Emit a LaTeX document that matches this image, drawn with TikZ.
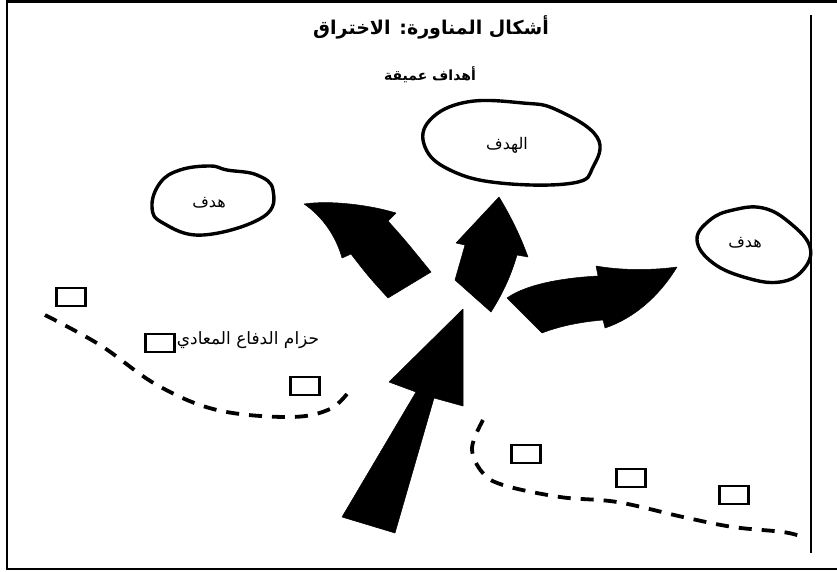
\documentclass[tikz,border=0pt]{standalone}
\usepackage{fontspec}
\newfontfamily\arabicfont[Script=Arabic]{DejaVu Sans}
\TeXXeTstate=1
\usepackage{tikz}

\begin{document}
\begin{tikzpicture}[
    x=1pt, y=-1pt,
    blob/.style={line width=3.4pt, line join=round},
    post/.style={rectangle, draw=black, line width=2.4pt, minimum width=29pt, minimum height=18pt, inner sep=0pt},
    belt/.style={line width=3.8pt, dash pattern=on 13pt off 10pt},
    thrust/.style={fill=black, draw=black, line width=0.5pt, line join=round},
    tag/.style={font=\arabicfont\fontsize{16}{18}\selectfont, inner sep=1pt}
]

\useasboundingbox (0,0) rectangle (837,571);

% Frame
\draw[line width=2.4pt] (837,1.5) -- (7,1.5) -- (7,569) -- (837,569);
\draw[line width=1.8pt] (811,15) -- (811,553);

% Titles
\node[font=\arabicfont\bfseries\fontsize{19}{22}\selectfont] (title) at (431,27) {\beginR أشكال المناورة: الاختراق\endR};
\node[font=\arabicfont\bfseries\fontsize{14}{16}\selectfont] (deep) at (430,75) {\beginR أهداف عميقة\endR};

% Targets
\draw[blob] plot[smooth cycle, tension=0.7] coordinates {(210,166) (227,170) (257,175) (273,190) (263,217) (203,235) (163,223) (152,207) (160,183) (180,170)};
\node[tag] (target1) at (209,203) {\beginR هدف\endR};
\draw[blob] plot[smooth cycle, tension=0.7] coordinates {(467,102) (523,103) (557,110) (597,137) (593,167) (573,183) (500,183) (450,170) (425,147) (430,120)};
\node[tag] (mainTarget) at (507,145) {\beginR الهدف\endR};
\draw[blob] plot[smooth cycle, tension=0.7] coordinates {(763,208) (790,223) (810,247) (803,270) (780,282) (747,278) (713,263) (697,240) (710,220) (733,210)};
\node[tag] (target2) at (745,243) {\beginR هدف\endR};

% Enemy defence belt
\node[post] (post1) at (71,297) {};
\node[post] (post2) at (160,343) {};
\node[post] (post3) at (305,386) {};
\node[post] (post4) at (526,454) {};
\node[post] (post5) at (631,478) {};
\node[post] (post6) at (734,495) {};
\node[font=\arabicfont\fontsize{17}{19}\selectfont, anchor=west, inner sep=1pt] (beltLabel) at ([yshift=3pt]post2.east) {\beginR حزام الدفاع المعادي\endR};

\draw[belt] plot[smooth, tension=0.6] coordinates {(45,315) (100,345) (157,385) (217,410) (290,417) (330,409) (350,390)};
\draw[belt] plot[smooth, tension=0.6] coordinates {(483,420) (472,448) (482,472) (503,485) (560,497) (617,502) (683,517) (733,527) (783,532) (803,537)};

% Penetration arrows
\draw[thrust] (463,309) -- (389,382) -- (416,392) -- (342,517) -- (395,533) -- (434,398) -- (463,406) -- cycle;
\draw[thrust] (304,204) .. controls (330,200) and (370,205) .. (396,213) -- (388,221) .. controls (405,240) .. (431,272) -- (388,298) .. controls (368,276) .. (351,254) -- (342,258) .. controls (336,236) and (322,216) .. cycle;
\draw[thrust] (499,197) -- (456,243) -- (465,245) .. controls (460,262) .. (455,280) -- (491,312) .. controls (505,290) and (512,272) .. (517,255) -- (528,257) .. controls (520,235) and (510,215) .. cycle;
\draw[thrust] (507,298) .. controls (525,285) and (560,278) .. (598,276) -- (596,266) .. controls (625,271) and (655,270) .. (677,267) .. controls (660,295) and (635,318) .. (605,328) -- (603,320) .. controls (580,322) and (560,326) .. (542,333) -- cycle;

\end{tikzpicture}
\end{document}
